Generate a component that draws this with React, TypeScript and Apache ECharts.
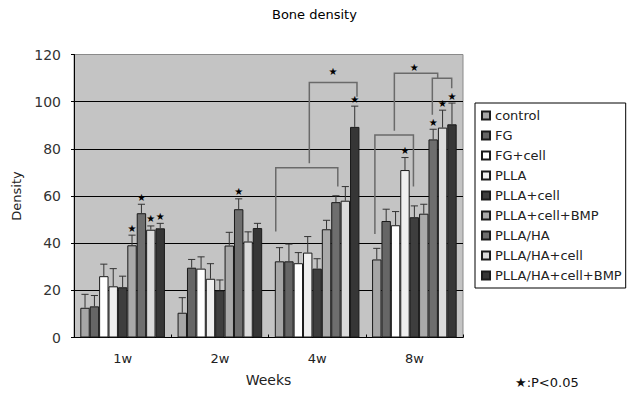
import React, { useEffect, useRef } from "react";
import * as echarts from "echarts";

const categories = ["1w", "2w", "4w", "8w"];
const seriesNames = [
  "control",
  "FG",
  "FG+cell",
  "PLLA",
  "PLLA+cell",
  "PLLA+cell+BMP",
  "PLLA/HA",
  "PLLA/HA+cell",
  "PLLA/HA+cell+BMP",
];
const seriesColors = [
  "#a6a6a6",
  "#666666",
  "#ffffff",
  "#efefef",
  "#3e3e3e",
  "#a9a9a9",
  "#6e6e6e",
  "#dadada",
  "#363636",
];

// means per group (1w, 2w, 4w, 8w)
const meanControl = [12.6, 10.5, 32.3, 33.1];
const meanFG = [13.2, 29.6, 32.3, 49.4];
const meanFGcell = [26.0, 29.2, 31.5, 47.6];
const meanPLLA = [21.7, 24.9, 36.0, 71.0];
const meanPLLAcell = [21.3, 20.0, 29.2, 51.0];
const meanPLLAcellBMP = [39.1, 39.0, 45.9, 52.5];
const meanPLLAHA = [52.7, 54.4, 57.4, 84.0];
const meanPLLAHAcell = [45.7, 40.7, 58.0, 89.0];
const meanPLLAHAcellBMP = [46.3, 46.4, 89.3, 90.4];

// standard deviations (upper error bars)
const errControl = [5.7, 6.4, 5.8, 4.7];
const errFG = [4.6, 3.5, 7.3, 5.0];
const errFGcell = [5.1, 5.0, 4.5, 5.8];
const errPLLA = [7.5, 6.4, 6.8, 5.3];
const errPLLAcell = [4.7, 4.4, 4.2, 4.8];
const errPLLAcellBMP = [4.3, 5.6, 3.8, 4.0];
const errPLLAHA = [3.8, 4.4, 2.7, 4.3];
const errPLLAHAcell = [1.6, 4.1, 6.0, 7.4];
const errPLLAHAcellBMP = [2.1, 2.0, 8.8, 9.0];

// significance stars above bars: [category index, series index]
const barStars = [
  [0, 5], [0, 6], [0, 7], [0, 8],
  [1, 6],
  [2, 8],
  [3, 3], [3, 6], [3, 7], [3, 8],
];

// comparison brackets: [category, left slot, right slot, top value, left foot value, right foot value]
const brackets = [
  [2, 0.1, 6.7, 72.0, 45.0, 64.0],
  [2, 3.67, 8.74, 108.1, 73.9, 102.1],
  [3, 0.3, 4.4, 85.9, 43.9, 64.0],
  [3, 2.37, 6.98, 112.0, 87.7, 109.9],
  [3, 6.41, 8.47, 109.9, 94.4, 105.7],
];
// stars above brackets: [category, slot, value]
const bracketStars = [
  [2, 6.19, 112.6],
  [3, 4.49, 114.6],
];

const yTicks = { min: 0, max: 120, interval: 20 };

const means = [
  meanControl, meanFG, meanFGcell, meanPLLA, meanPLLAcell,
  meanPLLAcellBMP, meanPLLAHA, meanPLLAHAcell, meanPLLAHAcellBMP,
];
const errs = [
  errControl, errFG, errFGcell, errPLLA, errPLLAcell,
  errPLLAcellBMP, errPLLAHA, errPLLAHAcell, errPLLAHAcellBMP,
];

const FONT = "DejaVu Sans";
const CAT_GAP = 0.13;
const N = seriesNames.length;

function slotX(api: any, cat: number, slot: number) {
  const center = api.coord([cat, 0])[0];
  const band = api.size([1, 0])[0];
  const used = band * (1 - CAT_GAP);
  const w = used / N;
  return { x: center - used / 2 + slot * w, w };
}

export default function App() {
  const ref = useRef<HTMLDivElement>(null);
  useEffect(() => {
    document.body.style.margin = "0";
    const chart = echarts.init(ref.current!, null, { renderer: "svg" });

    const errData: number[][] = [];
    means.forEach((m, s) =>
      m.forEach((v, c) => errData.push([c, s, v, errs[s][c]]))
    );
    const starData = barStars.map(([c, s]) => [c, s, means[s][c] + errs[s][c]]);

    const barSeries = seriesNames.map((name, i) => ({
      name,
      type: "bar",
      data: means[i],
      barGap: "0%",
      barCategoryGap: CAT_GAP * 100 + "%",
      itemStyle: { color: seriesColors[i], borderColor: "#1a1a1a", borderWidth: 1 },
      emphasis: { disabled: true },
    }));

    const option: any = {
      animation: false,
      textStyle: { fontFamily: FONT },
      title: {
        text: "Bone density",
        left: 272,
        top: 8,
        padding: 0,
        textStyle: { fontSize: 13, fontWeight: "normal", color: "#000", fontFamily: FONT },
      },
      legend: {
        orient: "vertical",
        left: 475,
        top: 103,
        itemWidth: 8,
        itemHeight: 8,
        itemGap: 7,
        padding: [6, 4, 6, 6],
        borderColor: "#000",
        borderWidth: 1,
        backgroundColor: "#fff",
        icon: "rect",
        data: seriesNames,
        textStyle: { fontSize: 13, color: "#222", fontFamily: FONT },
      },
      grid: {
        left: 74,
        top: 54.5,
        width: 389,
        height: 283,
        show: true,
        backgroundColor: "#c4c4c4",
        borderColor: "#8a8a8a",
        borderWidth: 1,
      },
      xAxis: {
        type: "category",
        data: categories,
        name: "Weeks",
        nameLocation: "middle",
        nameGap: 35,
        nameTextStyle: { fontSize: 14, color: "#222", fontFamily: FONT },
        axisLine: { lineStyle: { color: "#000", width: 1 } },
        axisTick: { show: true, inside: true, length: 3, lineStyle: { color: "#000" } },
        axisLabel: { fontSize: 13, color: "#222", margin: 14, fontFamily: FONT },
      },
      yAxis: {
        type: "value",
        min: yTicks.min,
        max: yTicks.max,
        interval: yTicks.interval,
        name: "Density",
        nameLocation: "middle",
        nameGap: 49,
        nameTextStyle: { fontSize: 13, color: "#222", fontFamily: FONT },
        axisLine: { show: true, lineStyle: { color: "#000", width: 1 } },
        axisTick: { show: true, length: 3, lineStyle: { color: "#000" } },
        axisLabel: { fontSize: 14, color: "#333", margin: 13, fontFamily: FONT },
        splitLine: {
          show: true,
          showMinLine: false,
          showMaxLine: false,
          lineStyle: { color: "#000", width: 1 },
        },
      },
      graphic: [
        {
          type: "text",
          left: 515,
          top: 376,
          style: { text: "★:P<0.05", fontSize: 13, fill: "#111", fontFamily: FONT },
        },
      ],
      series: [
        ...barSeries,
        {
          type: "custom",
          name: "errors",
          data: errData,
          encode: { x: 0, y: 2 },
          clip: false,
          z: 3,
          renderItem: (params: any, api: any) => {
            const cat = api.value(0);
            const slot = api.value(1);
            const mean = api.value(2);
            const err = api.value(3);
            const { x, w } = slotX(api, cat, slot + 0.5);
            const yM = api.coord([cat, mean])[1];
            const yT = api.coord([cat, mean + err])[1];
            const cap = w * 0.38;
            const st = { stroke: "#333", lineWidth: 1 };
            return {
              type: "group",
              children: [
                { type: "line", shape: { x1: x, y1: yM, x2: x, y2: yT }, style: st },
                { type: "line", shape: { x1: x - cap, y1: yT, x2: x + cap, y2: yT }, style: st },
              ],
            };
          },
        },
        {
          type: "custom",
          name: "brackets",
          data: brackets,
          encode: { x: 0, y: 3 },
          clip: false,
          z: 3,
          renderItem: (params: any, api: any) => {
            const cat = api.value(0);
            const xl = slotX(api, cat, api.value(1)).x;
            const xr = slotX(api, cat, api.value(2)).x;
            const yt = api.coord([cat, api.value(3)])[1];
            const yl = api.coord([cat, api.value(4)])[1];
            const yr = api.coord([cat, api.value(5)])[1];
            return {
              type: "polyline",
              shape: { points: [[xl, yl], [xl, yt], [xr, yt], [xr, yr]] },
              style: { stroke: "#6a6a6a", lineWidth: 1.5, fill: null },
            };
          },
        },
        {
          type: "custom",
          name: "barStars",
          data: starData,
          encode: { x: 0, y: 2 },
          clip: false,
          z: 4,
          renderItem: (params: any, api: any) => {
            const cat = api.value(0);
            const { x } = slotX(api, cat, api.value(1) + 0.5);
            const y = api.coord([cat, api.value(2)])[1];
            return {
              type: "text",
              x,
              y: y - 2,
              style: {
                text: "★",
                fontSize: 10,
                fill: "#000",
                align: "center",
                verticalAlign: "bottom",
                fontFamily: FONT,
              },
            };
          },
        },
        {
          type: "custom",
          name: "bracketStars",
          data: bracketStars,
          encode: { x: 0, y: 2 },
          clip: false,
          z: 4,
          renderItem: (params: any, api: any) => {
            const cat = api.value(0);
            const { x } = slotX(api, cat, api.value(1));
            const y = api.coord([cat, api.value(2)])[1];
            return {
              type: "text",
              x,
              y,
              style: {
                text: "★",
                fontSize: 10,
                fill: "#000",
                align: "center",
                verticalAlign: "middle",
                fontFamily: FONT,
              },
            };
          },
        },
      ],
    };
    chart.setOption(option);
    return () => chart.dispose();
  }, []);
  return <div ref={ref} style={{ width: 628, height: 397 }} />;
}
